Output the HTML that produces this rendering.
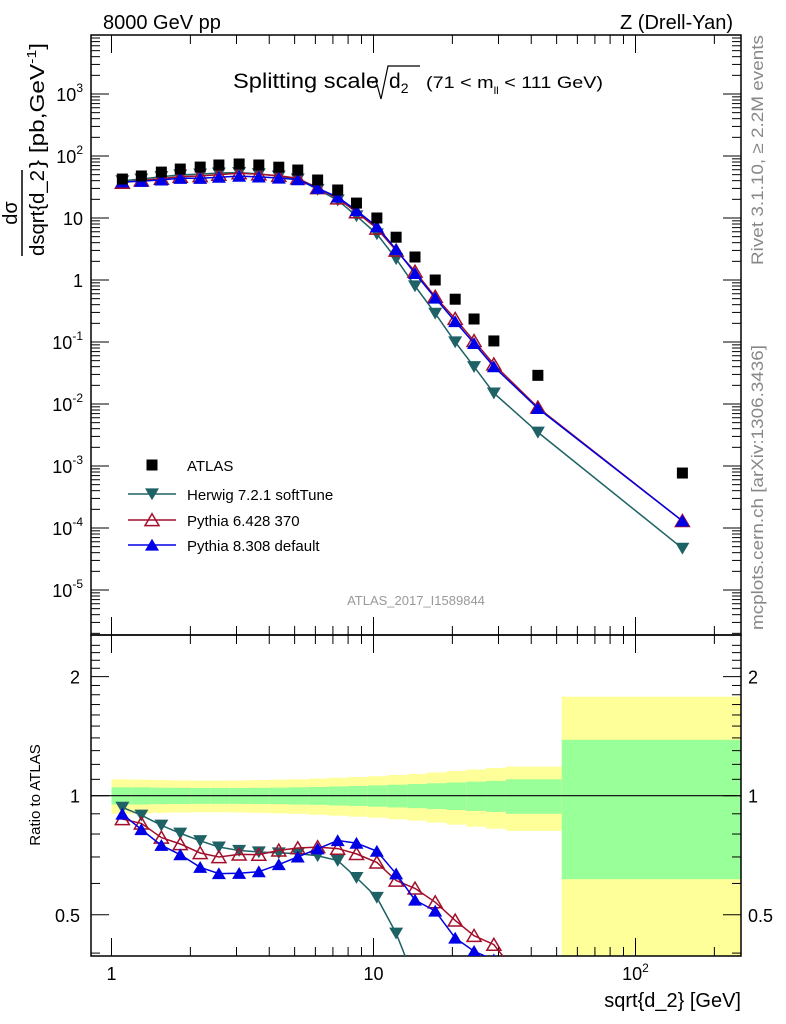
<!DOCTYPE html>
<html><head><meta charset="utf-8"><style>
html,body{margin:0;padding:0;background:#fff;overflow:hidden;width:786px;height:1024px;}
svg{display:block;position:absolute;left:0;top:0;font-family:"Liberation Sans",sans-serif;overflow:hidden;}
</style></head><body>
<svg id="c" width="786" height="1024" xmlns="http://www.w3.org/2000/svg">
<g id="band"></g>
<g id="axes"></g>
<g id="marks"></g>
<text x="103" y="29" font-size="20">8000 GeV pp</text>
<text x="733" y="29" font-size="20" text-anchor="end">Z (Drell-Yan)</text>
<g>
<text x="233" y="88" font-size="21" textLength="146" lengthAdjust="spacingAndGlyphs">Splitting scale</text>
<path d="M372,83 L376,81 L381,99 L388,66 L420,66" stroke="#000" stroke-width="1.2" fill="none"/>
<text x="389" y="88" font-size="21">d<tspan font-size="14" dy="5">2</tspan></text>
<text x="426" y="88" font-size="17" textLength="177" lengthAdjust="spacingAndGlyphs">(71 &lt; m<tspan font-size="10" dy="6">ll</tspan><tspan dy="-6"> &lt; 111 GeV)</tspan></text>
</g>
<g transform="rotate(-90)">
<text x="-213" y="17" font-size="20" text-anchor="middle">dσ</text>
<line x1="-256" y1="22" x2="-170" y2="22" stroke="#000" stroke-width="1.5"/>
<text x="-213" y="44" font-size="20" text-anchor="middle" textLength="86" lengthAdjust="spacingAndGlyphs">dsqrt{d_2</text>
<text x="-168" y="44" font-size="20" textLength="125" lengthAdjust="spacingAndGlyphs">} [pb,GeV<tspan font-size="13" dy="-8">-1</tspan><tspan dy="8">]</tspan></text>
</g>
<text transform="translate(763,265) rotate(-90)" font-size="17" fill="#888" textLength="230" lengthAdjust="spacingAndGlyphs">Rivet 3.1.10, ≥ 2.2M events</text>
<text transform="translate(763,630) rotate(-90)" font-size="17" fill="#888" textLength="285" lengthAdjust="spacingAndGlyphs">mcplots.cern.ch [arXiv:1306.3436]</text>
<text x="416" y="605" font-size="13" fill="#999" text-anchor="middle">ATLAS_2017_I1589844</text>
<text transform="translate(40,795) rotate(-90)" font-size="15" text-anchor="middle">Ratio to ATLAS</text>
<text x="741" y="1007" font-size="20" text-anchor="end">sqrt{d_2} [GeV]</text>
<g id="legend"></g>
</svg>
<script>
const xVals=[1.10,1.30,1.55,1.83,2.18,2.57,3.07,3.65,4.35,5.14,6.12,7.30,8.61,10.3,12.2,14.4,17.2,20.5,24.2,28.8,42.4,151];
const binEdges=[1.0,1.19,1.41,1.68,2.0,2.38,2.83,3.36,4.0,4.76,5.66,6.73,8.0,9.51,11.3,13.5,16.0,19.0,22.6,26.9,32.0,52.3,260];
const atlas=[42.5,47.6,55,61.6,66.3,71.6,74.3,71.6,66,59.4,41,28.3,17.4,10,4.9,2.35,1.0,0.49,0.235,0.104,0.029,7.7e-4];
const herwig=[39.7,42.5,46.3,49.5,51,53.1,54,51.6,47.3,42.4,28.9,19.4,10.8,5.53,2.2,0.8,0.29,0.1,0.04,0.015,0.0035,4.7e-5];
const pythia6=[37.1,40.5,43.1,46.5,47.5,50.1,52.8,50.8,48,43.8,30.4,20.8,12.4,6.78,2.99,1.37,0.538,0.237,0.104,0.0437,0.0088,1.3e-4];
const pythia8=[38.2,39.1,41.2,43.7,43.7,45.5,47.3,46,44.2,41.6,30.1,21.8,13.2,7.24,3.11,1.28,0.511,0.214,0.095,0.04,0.0085,1.3e-4];
const errInner=[0.05,0.05,0.048,0.047,0.046,0.046,0.046,0.047,0.048,0.05,0.052,0.055,0.058,0.062,0.066,0.07,0.075,0.08,0.085,0.09,0.10,0.385];
const errOuter=[0.10,0.098,0.095,0.093,0.092,0.092,0.093,0.095,0.098,0.10,0.105,0.11,0.115,0.12,0.128,0.135,0.145,0.155,0.165,0.175,0.185,0.78];
const yMainTicks=["10^-5","10^-4","10^-3","10^-2","10^-1","1","10","10^2","10^3"];
const ratioTicks=[0.5,1,2];
const xTickLabels=["1","10","10^2"];

const NS="http://www.w3.org/2000/svg";
const L=91,R=741,T=35,MB=635,RB=956;
const X=v=>111.5+262*Math.log10(v);
const YM=v=>280-62*Math.log10(v);
const YR=v=>795.7-395.5*Math.log10(v);
function mk(tag,attrs,parent){const e=document.createElementNS(NS,tag);for(const k in attrs)e.setAttribute(k,attrs[k]);parent.appendChild(e);return e;}
const axes=document.getElementById('axes'),marks=document.getElementById('marks'),band=document.getElementById('band'),leg=document.getElementById('legend');

for(let i=0;i<xVals.length;i++){
  const x1=Math.max(X(binEdges[i]),L),x2=Math.min(X(binEdges[i+1]),R);
  const y1=Math.max(YR(1+errOuter[i]),MB),y2=Math.min(YR(Math.max(1-errOuter[i],0.01)),RB);
  let r=mk('rect',{x:x1,y:y1,width:Math.max(x2-x1,0),height:y2-y1,fill:'#ffff99'},band);
  
  
  const g1=YR(1+errInner[i]),g2=YR(1-errInner[i]);
  r=mk('rect',{x:x1,y:g1,width:Math.max(x2-x1,0),height:g2-g1,fill:'#99ff99'},band);
  
  
}
let f=mk('rect',{x:L,y:T,width:R-L,height:MB-T,fill:'none',stroke:'#000','stroke-width':1.5},axes);


f=mk('rect',{x:L,y:MB,width:R-L,height:RB-MB,fill:'none',stroke:'#000','stroke-width':1.5},axes);


mk('line',{x1:L,x2:R,y1:YR(1),y2:YR(1),stroke:'#000','stroke-width':1.2},axes);
for(let d=0;d<=2;d++)for(let m=1;m<=9;m++){
  const v=m*Math.pow(10,d);const x=X(v);if(x<L||x>R)continue;
  const len=m==1?18:9;
  for(const yb of [T,MB]) mk('line',{x1:x,x2:x,y1:yb,y2:yb+len,stroke:'#000'},axes);
  for(const yb of [MB,RB]) mk('line',{x1:x,x2:x,y1:yb,y2:yb-len,stroke:'#000'},axes);
}
xTickLabels.forEach((s,i)=>{
  const x=X(Math.pow(10,i));const t=mk('text',{x:x,y:980,'font-size':18,'text-anchor':'middle'},axes);
  if(s.includes('^')){const p=s.split('^');t.textContent=p[0];const ts=mk('tspan',{'font-size':12,dy:-8},t);ts.textContent=p[1];}
  else t.textContent=s;
  
  
});
for(let d=-6;d<=3;d++)for(let m=1;m<=9;m++){
  const v=m*Math.pow(10,d);const y=YM(v);if(y<T||y>MB)continue;
  const len=m==1?18:9;
  mk('line',{x1:L,x2:L+len,y1:y,y2:y,stroke:'#000'},axes);
  mk('line',{x1:R,x2:R-len,y1:y,y2:y,stroke:'#000'},axes);
}
yMainTicks.forEach((s,i)=>{
  const y=YM(Math.pow(10,i-5))+7;
  const t=mk('text',{x:83,y:y,'font-size':18,'text-anchor':'end'},axes);
  if(s.includes('^')){const p=s.split('^');t.textContent=p[0];const ts=mk('tspan',{'font-size':12,dy:-9},t);ts.textContent=p[1];}
  else t.textContent=s;
  
  
});
for(let v=0.4;v<=2.5;v+=0.1){
  const y=YR(v);if(y<MB||y>RB)continue;
  const major=Math.abs(v-0.5)<1e-6||Math.abs(v-1)<1e-6||Math.abs(v-2)<1e-6;
  const len=major?18:9;
  mk('line',{x1:L,x2:L+len,y1:y,y2:y,stroke:'#000'},axes);
  mk('line',{x1:R,x2:R-len,y1:y,y2:y,stroke:'#000'},axes);
}
ratioTicks.forEach(v=>{
  const y=YR(v)+7;
  let t=mk('text',{x:80,y:y,'font-size':18,'text-anchor':'end'},axes);t.textContent=String(v);
  
  
  t=mk('text',{x:748,y:y,'font-size':18},axes);t.textContent=String(v);
  
  
});
function marker(type,x,y,col,parent,s){
  s=s||7;
  if(type=='sq') return mk('rect',{x:x-s,y:y-s,width:2*s,height:2*s,fill:'#000'},parent);
  if(type=='down') return mk('polygon',{points:`${x-s},${y-s*0.8} ${x+s},${y-s*0.8} ${x},${y+s*0.9}`,fill:col},parent);
  if(type=='up') return mk('polygon',{points:`${x-s},${y+s*0.8} ${x+s},${y+s*0.8} ${x},${y-s*0.9}`,fill:col},parent);
  if(type=='open') return mk('polygon',{points:`${x-s},${y+s*0.8} ${x+s},${y+s*0.8} ${x},${y-s*0.9}`,fill:'none',stroke:col,'stroke-width':1.5},parent);
}
const series=[
  {d:herwig,col:'#1f6266',m:'down',name:'herwig'},
  {d:pythia6,col:'#a30f2a',m:'open',name:'pythia6'},
  {d:pythia8,col:'#0000e6',m:'up',name:'pythia8'}];
const defs=mk('defs',{},document.getElementById('c'));
const cp=mk('clipPath',{id:'rc'},defs);mk('rect',{x:L,y:MB,width:R-L,height:RB-MB},cp);
const cpm=mk('clipPath',{id:'mc'},defs);mk('rect',{x:L,y:T,width:R-L,height:MB-T},cpm);
series.forEach(s=>{
  const gm=mk('g',{'clip-path':'url(#mc)'},marks);
  
  
  mk('polyline',{points:s.d.map((v,i)=>X(xVals[i])+','+YM(v)).join(' '),fill:'none',stroke:s.col,'stroke-width':1.5},gm);
  s.d.forEach((v,i)=>{const p=marker(s.m,X(xVals[i]),YM(v),s.col,gm);
    
    });
  const gr=mk('g',{'clip-path':'url(#rc)'},marks);
  
  
  mk('polyline',{points:s.d.map((v,i)=>X(xVals[i])+','+YR(v/atlas[i])).join(' '),fill:'none',stroke:s.col,'stroke-width':1.5},gr);
  s.d.forEach((v,i)=>{const p=marker(s.m,X(xVals[i]),YR(v/atlas[i]),s.col,gr);
    
    });
});
atlas.forEach((v,i)=>{const p=marker('sq',X(xVals[i]),YM(v),'#000',marks,5.5);
  
  });
const items=[['sq','#000','ATLAS',465],['down','#1f6266','Herwig 7.2.1 softTune',494],['open','#a30f2a','Pythia 6.428 370',520],['up','#0000e6','Pythia 8.308 default',545]];
items.forEach(it=>{
  const g=mk('g',{},leg);
  
  
  if(it[0]!='sq') mk('line',{x1:128,x2:176,y1:it[3],y2:it[3],stroke:it[1],'stroke-width':1.5},g);
  marker(it[0],152,it[3],it[1],g,it[0]=='sq'?5.5:7);
  const t=mk('text',{x:187,y:it[3]+6,'font-size':15},g);t.textContent=it[2];
});
</script>
</body></html>
